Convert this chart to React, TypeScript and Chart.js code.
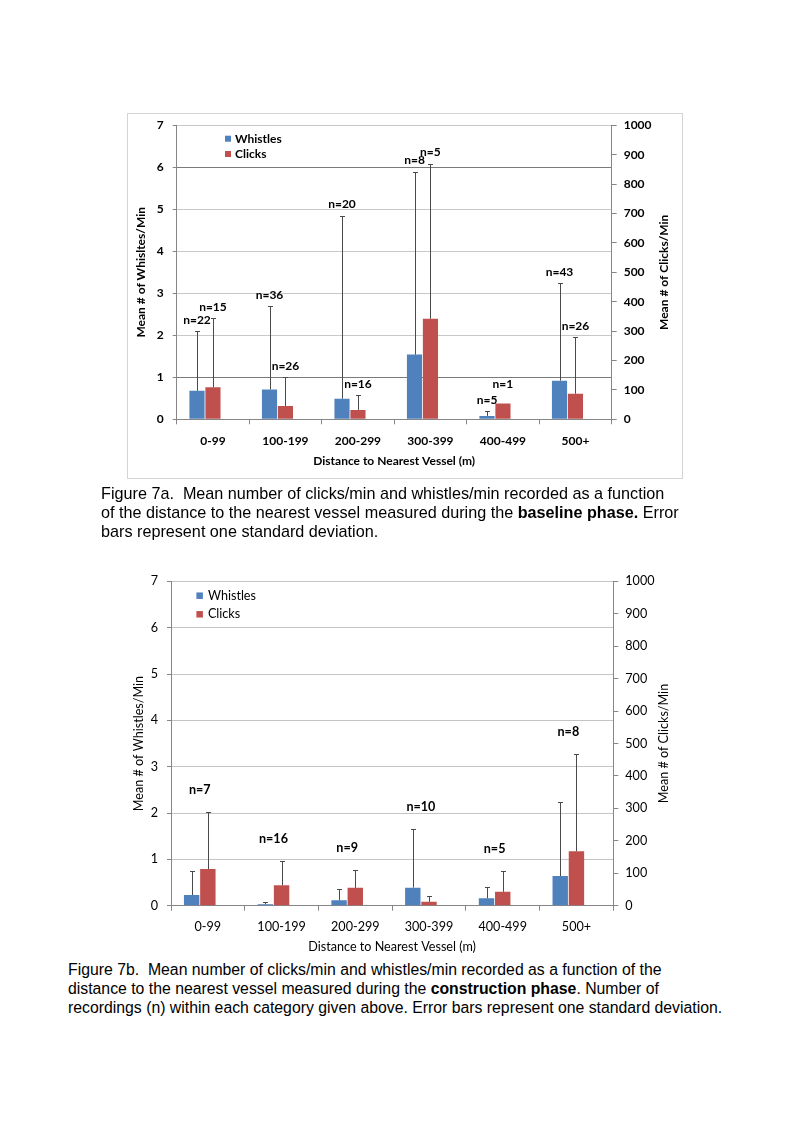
import React, { useEffect, useRef } from "react";
import { Chart, registerables } from "chart.js";

Chart.register(...registerables);

// ---------- data ----------
const categories = ["0-99", "100-199", "200-299", "300-399", "400-499", "500+"];

// Figure 7a – baseline phase
const baseWhistleMean = [0.68, 0.71, 0.49, 1.54, 0.08, 0.92];
const baseWhistleSD = [1.42, 1.98, 4.36, 4.36, 0.11, 2.33];
const baseClickMean = [109, 45, 32, 342, 54, 87];
const baseClickSD: (number | null)[] = [235, 98, 50, 528, null, 193];
const baseWhistleN = ["n=22", "n=36", "n=20", "n=8", "n=5", "n=43"];
const baseClickN = ["n=15", "n=26", "n=16", "n=5", "n=1", "n=26"];

// Figure 7b – construction phase
const consWhistleMean = [0.23, 0.03, 0.115, 0.39, 0.16, 0.64];
const consWhistleSD = [0.52, 0.06, 0.255, 1.26, 0.25, 1.6];
const consClickMean = [113, 63, 55, 12, 43, 168];
const consClickSD = [175, 76, 55, 19, 64, 301];
const consN = ["n=7", "n=16", "n=9", "n=10", "n=5", "n=8"];

// axis ranges
const whistleAxis = { min: 0, max: 7, step: 1 };
const clickAxis = { min: 0, max: 1000, step: 100 };

const seriesNames = ["Whistles", "Clicks"];

// ---------- styling ----------
const BLUE = "#4F81BD";
const RED = "#C0504D";
const AXIS = "#868686";
const FONT = "Lato";

type Spec = {
  whMean: number[];
  whSD: (number | null)[];
  clMean: number[];
  clSD: (number | null)[];
  perBarN?: { wh: string[]; cl: string[] };
  perCatN?: string[];
  leftTitle: string;
  rightTitle: string;
  xTitle: string;
  fontSize: number;
  fontWeight: string;
  nWeight: string;
  width: number;
  height: number;
  area: { left: number; right: number; top: number; bottom: number };
  gridColor: (v: number) => string;
  titleOff: { left: number; right: number; x: number };
  legend: { dx: number; dy: number; gap: number; textDx: number; box: number };
  pad: { x: number; yLeft: number; yRight: number };
  nOffset: number;
};

function build(canvas: HTMLCanvasElement, s: Spec) {
  const font = { family: FONT, size: s.fontSize, weight: s.fontWeight as any };
  const emptySlot = categories.map(() => null);

  const overlay = {
    id: "overlay",
    afterDatasetsDraw(chart: any) {
      const ctx = chart.ctx as CanvasRenderingContext2D;
      const sds = [s.whSD, s.clSD];
      const means = [s.whMean, s.clMean];
      ctx.save();
      ctx.strokeStyle = "#4a4a4a";
      ctx.lineWidth = 1;
      const tops: number[][] = [[], []];
      [0, 1].forEach((di) => {
        const meta = chart.getDatasetMeta(di);
        const scale = chart.scales[meta.yAxisID];
        meta.data.forEach((bar: any, i: number) => {
          const sd = sds[di][i];
          const v = means[di][i];
          if (sd == null) {
            tops[di][i] = scale.getPixelForValue(v);
            return;
          }
          const yTop = scale.getPixelForValue(v + sd);
          tops[di][i] = yTop;
          const x = Math.round(bar.x) + 0.5;
          const yt = Math.round(yTop) + 0.5;
          ctx.beginPath();
          ctx.moveTo(x, bar.y);
          ctx.lineTo(x, yt);
          ctx.moveTo(x - 2.5, yt);
          ctx.lineTo(x + 2.5, yt);
          ctx.stroke();
        });
      });
      // n labels
      ctx.fillStyle = "#000";
      ctx.font = `${s.nWeight} ${s.fontSize}px ${FONT}`;
      ctx.textAlign = "center";
      ctx.textBaseline = "middle";
      const m0 = chart.getDatasetMeta(0);
      const m1 = chart.getDatasetMeta(1);
      if (s.perBarN) {
        const lists = [s.perBarN.wh, s.perBarN.cl];
        const sdsL = [s.whSD, s.clSD];
        [m0, m1].forEach((meta: any, di: number) => {
          meta.data.forEach((bar: any, i: number) => {
            const extra = sdsL[di][i] == null ? 8 : 0;
            ctx.fillText(lists[di][i], bar.x, tops[di][i] - s.nOffset - extra);
          });
        });
      }
      if (s.perCatN) {
        s.perCatN.forEach((lab, i) => {
          const x = (m0.data[i].x + m1.data[i].x) / 2;
          const y = Math.min(tops[0][i], tops[1][i]) - s.nOffset;
          ctx.fillText(lab, x, y);
        });
      }
      ctx.restore();
    },
    afterDraw(chart: any) {
      const ctx = chart.ctx as CanvasRenderingContext2D;
      const a = chart.chartArea;
      ctx.save();
      ctx.fillStyle = "#000";
      ctx.font = `${s.fontWeight} ${s.fontSize}px ${FONT}`;
      ctx.textAlign = "center";
      ctx.textBaseline = "middle";
      const cy = (a.top + a.bottom) / 2;
      // left title
      ctx.save();
      ctx.translate(a.left + s.titleOff.left, cy);
      ctx.rotate(-Math.PI / 2);
      ctx.fillText(s.leftTitle, 0, 0);
      ctx.restore();
      // right title
      ctx.save();
      ctx.translate(a.right + s.titleOff.right, cy);
      ctx.rotate(-Math.PI / 2);
      ctx.fillText(s.rightTitle, 0, 0);
      ctx.restore();
      // x title
      ctx.fillText(s.xTitle, (a.left + a.right) / 2, a.bottom + s.titleOff.x);
      // legend
      const colors = [BLUE, RED];
      ctx.textAlign = "left";
      seriesNames.forEach((name, i) => {
        const y = a.top + s.legend.dy + i * s.legend.gap;
        ctx.fillStyle = colors[i];
        ctx.fillRect(a.left + s.legend.dx, y - s.legend.box / 2, s.legend.box, s.legend.box);
        ctx.fillStyle = "#000";
        ctx.fillText(name, a.left + s.legend.dx + s.legend.textDx, y);
      });
      ctx.restore();
    },
  };

  const barOpts = { categoryPercentage: 0.66, barPercentage: 0.95 };

  return new Chart(canvas, {
    type: "bar",
    data: {
      labels: categories,
      datasets: [
        { label: seriesNames[0], data: s.whMean, backgroundColor: BLUE, yAxisID: "y", ...barOpts },
        { label: seriesNames[1], data: s.clMean, backgroundColor: RED, yAxisID: "y1", ...barOpts },
        { label: "", data: emptySlot, backgroundColor: "transparent", yAxisID: "y", ...barOpts },
      ],
    },
    options: {
      animation: false,
      responsive: false,
      maintainAspectRatio: false,
      layout: { padding: { top: s.area.top, left: 0, right: 0, bottom: 0 } },
      plugins: { legend: { display: false }, tooltip: { enabled: false } },
      scales: {
        x: {
          grid: { display: true, drawOnChartArea: false, drawTicks: true, tickLength: 5, color: AXIS, offset: true },
          border: { display: true, color: AXIS },
          ticks: { font, color: "#000", padding: s.pad.x, maxRotation: 0, autoSkip: false },
          afterFit: (sc: any) => {
            sc.height = s.height - s.area.bottom;
          },
        },
        y: {
          position: "left",
          min: whistleAxis.min,
          max: whistleAxis.max,
          ticks: {
            stepSize: whistleAxis.step,
            font,
            color: "#000",
            padding: s.pad.yLeft,
            callback: (v: any) => String(v),
          },
          grid: {
            color: (c: any) => s.gridColor(c.tick ? c.tick.value : 0),
            tickColor: AXIS,
            tickLength: 4,
          },
          border: { display: true, color: AXIS },
          afterFit: (sc: any) => {
            sc.width = s.area.left;
          },
        },
        y1: {
          position: "right",
          min: clickAxis.min,
          max: clickAxis.max,
          ticks: {
            stepSize: clickAxis.step,
            font,
            color: "#000",
            padding: s.pad.yRight,
            callback: (v: any) => String(v),
          },
          grid: { drawOnChartArea: false, color: AXIS, tickLength: 5 },
          border: { display: true, color: AXIS },
          afterFit: (sc: any) => {
            sc.width = s.width - s.area.right;
          },
        },
      },
    },
    plugins: [overlay as any],
  });
}

const specA: Spec = {
  whMean: baseWhistleMean,
  whSD: baseWhistleSD,
  clMean: baseClickMean,
  clSD: baseClickSD,
  perBarN: { wh: baseWhistleN, cl: baseClickN },
  leftTitle: "Mean # of Whisltes/Min",
  rightTitle: "Mean # of Clicks/Min",
  xTitle: "Distance to Nearest Vessel (m)",
  fontSize: 12,
  fontWeight: "bold",
  nWeight: "bold",
  width: 570,
  height: 380,
  area: { left: 56.7, right: 491.7, top: 20.3, bottom: 314.3 },
  gridColor: (v) => (v === 1 || v === 6 ? "#7a7a7a" : v === 0 ? AXIS : "#c8c8c8"),
  titleOff: { left: -35.5, right: 52.5, x: 41.4 },
  legend: { dx: 48.3, dy: 13.4, gap: 15.3, textDx: 10, box: 6 },
  pad: { x: 9.2, yLeft: 9, yRight: 7 },
  nOffset: 11,
};

const specB: Spec = {
  whMean: consWhistleMean,
  whSD: consWhistleSD,
  clMean: consClickMean,
  clSD: consClickSD,
  perCatN: consN,
  leftTitle: "Mean # of Whistles/Min",
  rightTitle: "Mean # of Clicks/Min",
  xTitle: "Distance to Nearest Vessel (m)",
  fontSize: 12.6,
  fontWeight: "normal",
  nWeight: "bold",
  width: 570,
  height: 400,
  area: { left: 51, right: 493.3, top: 21.4, bottom: 345.7 },
  gridColor: (v) => (v === 0 ? AXIS : "#c4c4c4"),
  titleOff: { left: -32.4, right: 51, x: 41 },
  legend: { dx: 25.4, dy: 14.3, gap: 18.6, textDx: 11.5, box: 6.5 },
  pad: { x: 9, yLeft: 9, yRight: 7 },
  nOffset: 22,
};

function ChartCanvas({ spec, left, top }: { spec: Spec; left: number; top: number }) {
  const ref = useRef<HTMLCanvasElement>(null);
  useEffect(() => {
    const chart = build(ref.current!, spec);
    return () => chart.destroy();
  }, []);
  return (
    <canvas
      ref={ref}
      width={spec.width}
      height={spec.height}
      style={{ position: "absolute", left, top, width: spec.width, height: spec.height }}
    />
  );
}

const captionStyle: React.CSSProperties = {
  position: "absolute",
  fontFamily: '"Liberation Sans", Arial, sans-serif',
  fontSize: 16.2,
  lineHeight: "19px",
  color: "#000",
  whiteSpace: "pre",
};

export default function App() {
  return (
    <div style={{ position: "absolute", left: 0, top: 0, width: 793, height: 1123, background: "#fff", overflow: "hidden" }}>
      <div
        style={{
          position: "absolute",
          left: 126.5,
          top: 113,
          width: 554,
          height: 364,
          border: "1px solid #d4d4d4",
        }}
      />
      <ChartCanvas spec={specA} left={120} top={105} />
      <div style={{ ...captionStyle, left: 101, top: 483.5 }}>
        <div>Figure 7a.  Mean number of clicks/min and whistles/min recorded as a function</div>
        <div>
          of the distance to the nearest vessel measured during the <b>baseline phase.</b> Error
        </div>
        <div>bars represent one standard deviation.</div>
      </div>
      <ChartCanvas spec={specB} left={120} top={560} />
      <div style={{ ...captionStyle, fontSize: 15.8, left: 68, top: 959.5 }}>
        <div>Figure 7b.  Mean number of clicks/min and whistles/min recorded as a function of the</div>
        <div>
          distance to the nearest vessel measured during the <b>construction phase</b>. Number of
        </div>
        <div>recordings (n) within each category given above. Error bars represent one standard deviation.</div>
      </div>
    </div>
  );
}
